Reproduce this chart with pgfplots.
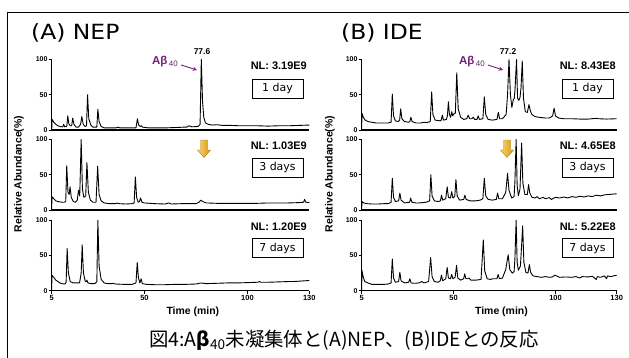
\documentclass[border=0pt]{standalone}
\usepackage{pgfplots}
\pgfplotsset{compat=1.18}
\usepackage{fontspec}
\setmainfont{Liberation Sans}
\newfontfamily\dejavu{DejaVu Sans}
\newfontfamily\jp{Noto Sans CJK JP}
\definecolor{abpurple}{RGB}{115,30,120}
\definecolor{goldA}{RGB}{250,215,110}
\definecolor{goldB}{RGB}{215,150,20}

\pgfplotsset{
 chrom/.style={
  scale only axis, width=#1, height=70.5bp,
  xmin=5,xmax=130,ymin=0,ymax=100,
  axis x line*=bottom, axis y line*=left,
  axis line style={-, line width=1.1bp},
  ytick={0,50,100}, yticklabels={0,50,100},
  yticklabel style={font=\bfseries\fontsize{7}{7}\selectfont, inner sep=1bp},
  xticklabel style={font=\bfseries\fontsize{7.5}{7.5}\selectfont, inner sep=1bp},
  tick align=outside, major tick length=3bp,
  tick style={line width=0.9bp, black},
  xtick=\empty,
  clip=false,
 },
 trace/.style={black, line width=0.9bp, line join=round, no marks},
}

\begin{document}
\begin{tikzpicture}
\path[use as bounding box] (0,0) rectangle (629bp,-358bp);
\draw[line width=1bp] (7.3bp,-358bp) -- (7.3bp,-12.3bp) -- (629bp,-12.3bp);

% ---------------- (A) NEP ----------------
\begin{axis}[chrom=257.6bp, at={(51.7bp,-130bp)}, anchor=south west]
\addplot[trace] coordinates {(5,0)(5.2,15)(6,11)(7,8)(8,6)(9,5)(10,4.5)(10.4,4.5)(10.8,8)(11.3,4.5)(12.3,5)(12.8,20)(13.3,9)(14,6)(14.7,6)(15.2,17)(15.8,8)(16.8,4)(18,4)(19,8)(19.6,19)(20.3,8)(21.2,5)(21.9,6)(22.4,50)(23,16)(24,7)(25,4)(26.9,4)(27.4,29.5)(28,12)(29,5)(30.5,3)(33,3)(36,3)(37.5,4)(38,3)(42,3)(45.9,3)(46.6,16)(47.2,7)(48,5)(48.5,6)(49.2,4)(52,3)(56,3)(60,3)(65,3.5)(69,4)(70.5,4)(71.6,6)(73,4.5)(76,5)(77,8)(77.6,100)(78.2,40)(78.8,18)(79.6,10)(81,8)(83,7)(85,7.5)(88,6.5)(92,6.5)(96,6)(100,6)(105,6)(110,5.5)(115,6)(120,6)(125,6.5)(130,7)};
\end{axis}
\begin{axis}[chrom=257.6bp, at={(51.7bp,-210bp)}, anchor=south west]
\addplot[trace] coordinates {(5,0)(5.1,19)(6,16)(7,13)(8,12)(9,11.5)(10,11)(11,11)(11.8,12)(12.3,63)(12.9,25)(13.5,22)(13.9,33)(14.5,18)(15.5,12)(16.5,11)(17.4,14)(18,28)(18.6,20)(19.3,100)(19.9,30)(20.6,18)(21.5,20)(22.1,67)(22.8,25)(23.8,14)(25,11)(26.5,11)(27.3,62)(28,22)(29,13)(30.5,10)(33,9)(36,9)(36.7,10)(37.5,9)(41,8.5)(44,9)(45,10)(45.6,47)(46.2,18)(47,11)(47.6,12)(48.1,17)(48.8,11)(50,10)(55,9)(60,8.5)(61.9,10)(63,8.5)(68,9)(72,9)(75,9)(76.5,11)(77.3,14)(78.3,12)(80,10)(85,9.5)(90,9.5)(95,9.5)(100,9.5)(105,9.5)(110,10)(115,10)(120,10)(125,10.5)(127.2,11)(127.7,15)(128.3,11)(130,10.5)};
\end{axis}
\begin{axis}[chrom=257.6bp, at={(51.7bp,-290.7bp)}, anchor=south west,
  xtick={5,50,100,130}, xticklabels={5,50,100,130}]
\addplot[trace] coordinates {(5,0)(5.1,22)(6,19)(7,15)(8,13)(9,11)(10,10)(11.5,9.5)(12,12)(12.5,60)(13.1,25)(14,13)(15.5,11)(17,11)(18.5,11)(19.3,25)(19.8,65)(20.4,25)(21.3,13)(21.8,13)(22.1,15)(22.6,11)(24,10)(26,10)(26.9,13)(27.4,100)(28,35)(29,16)(30.5,11)(32,10)(34,10)(34.5,10.5)(36,9.5)(40,9)(44,9)(45.9,11)(46.5,40)(47.1,18)(47.8,11)(48.4,17)(49,10)(51,9)(55,8.5)(60,8.5)(65,9)(70,9)(75,9.5)(77.5,11)(80,10)(85,10.5)(90,11)(95,11)(100,11.5)(105,12)(105.8,13)(106.5,12)(110,12)(115,12.5)(120,13)(122,13)(125,13.5)(130,14.5)};
\node[font=\bfseries\fontsize{10.5}{10.5}\selectfont] at (axis cs:73.5,0) [yshift=-21.5bp] {Time (min)};
\end{axis}

% ---------------- (B) IDE ----------------
\begin{axis}[chrom=255bp, at={(361.7bp,-130bp)}, anchor=south west]
\addplot[trace] coordinates {(5,0)(5.1,24)(5.8,18)(6.7,14)(8,12)(10,11)(12,10)(15,10)(18,10)(19.4,11)(20,51)(20.6,20)(21.5,13)(23,12)(23.6,14)(24.1,30)(24.7,16)(26,12)(28,11)(28.6,12)(29.1,18)(29.7,12)(31.5,10)(34,10)(35.5,11)(37,10.5)(38.6,12)(39.3,54)(39.9,22)(41,14)(43.5,13)(44,14)(44.5,21)(45.1,14)(46.5,15)(47,20)(47.5,40)(48,22)(48.6,18)(49.1,26)(49.6,20)(50.2,23)(50.9,24)(51.6,81)(52.3,30)(53.5,18)(55,15)(56.5,16)(57.2,21)(57.9,16)(59,16)(59.7,18)(60.4,15)(61.5,15)(62.1,20)(62.7,15)(64.4,16)(65.1,47)(65.8,22)(67,15)(69,14)(71.3,15)(72,25)(72.6,16)(74,16)(75.8,22)(76.5,50)(77.2,100)(77.9,50)(78.6,32)(79.3,43)(79.8,45)(80.2,60)(80.9,100)(81.4,45)(82,42)(82.6,46)(83.1,60)(83.7,98)(84.3,45)(85.2,26)(86.2,25)(87,36)(87.6,28)(88.4,22)(90,19)(92,18)(95,17)(97,17)(98.6,20)(99.3,31)(100,20)(101.5,17)(104,16)(108,16)(112,15.5)(116,15.5)(120,16.5)(121,16)(125,15.5)(130,16)};
\end{axis}
\begin{axis}[chrom=255bp, at={(361.7bp,-210bp)}, anchor=south west]
\addplot[trace] coordinates {(5,0)(5.1,12)(6,10)(7.5,9)(10,8.5)(13,8.5)(16,9)(18,9)(19.4,11)(20,45)(20.6,18)(21.5,12)(23.1,13)(23.7,24)(24.3,14)(26,10)(28.5,11)(29,17)(29.6,11)(31.5,10)(33,10)(35,10.5)(36.5,11)(38.3,13)(38.9,50)(39.5,20)(40.6,13)(42.5,12)(43.6,13)(44.1,21)(44.7,14)(46.2,16)(46.9,33)(47.5,18)(48.5,17)(49.1,26)(49.7,17)(50.6,19)(51.2,43)(51.8,20)(53,14)(55,15)(55.6,21)(56.2,15)(58,13)(61,13)(63,14)(64.4,16)(65.1,45)(65.8,20)(67,15)(69,14)(71,15)(71.6,24)(72.2,16)(74,16)(75.6,25)(76.5,52)(77.2,28)(78.5,17)(79.7,19)(80.1,40)(80.7,100)(81.2,35)(81.8,20)(82.6,30)(83.4,95)(84,38)(85,22)(86.2,22)(86.8,36)(87.4,24)(88.5,18)(90,17)(91,19)(92,16)(94,18)(95,16)(97,17.5)(98,15)(100,18)(102,17)(104,18.5)(106,17)(108,19)(110,18)(112,19.5)(114,18.5)(116,20)(118,19)(120,21)(122,20)(124,21.5)(126,22)(128,22.5)(130,23)};
\end{axis}
\begin{axis}[chrom=255bp, at={(361.7bp,-290.7bp)}, anchor=south west,
  xtick={5,50,100,130}, xticklabels={5,50,100,130}]
\addplot[trace] coordinates {(5,0)(5.1,29)(5.7,20)(6.5,13)(8,11)(10,9)(13,9)(16,9)(18,9.5)(19.4,11)(20,45)(20.6,18)(21.5,12)(23.1,13)(23.7,26)(24.3,14)(26,11)(28,12)(28.6,17)(29.2,11)(31,10.5)(33,11)(34.5,13)(35.5,11)(37.8,13)(38.8,47)(39.5,20)(40.6,13)(42.5,12)(43.5,14)(44.1,22)(44.7,14)(46.2,17)(46.9,33)(47.5,18)(48.5,17)(49.1,23)(49.7,17)(50.8,19)(51.5,36)(52.1,18)(53.5,15)(55,17)(55.5,24)(56.1,17)(57,17)(57.6,18)(58.5,15)(61,15)(63.5,16)(64.6,72)(65.3,28)(66.5,17)(68,16)(69.5,17)(71.3,17)(71.9,23)(72.5,17)(74,18)(75.6,30)(76.8,51)(77.6,30)(78.8,25)(79.7,27)(80.1,45)(80.7,100)(81.2,40)(81.8,29)(82.8,35)(83.3,60)(83.9,92)(84.5,40)(85.5,26)(86.5,25)(87.2,37)(87.8,26)(89,21)(91,20)(93,19)(95,20)(97,19)(98.5,19.5)(99.6,22)(100.5,21)(102,19)(105,19.5)(108,19)(110,20)(112,18)(113,20)(116,19.5)(118,20.5)(120,16)(120.5,20)(122,19)(124,21)(125,17)(125.5,21)(127,20)(130,22)};
\node[font=\bfseries\fontsize{10.5}{10.5}\selectfont] at (axis cs:73.5,0) [yshift=-21.5bp] {Time (min)};
\end{axis}

% ---------------- annotations ----------------
\node[anchor=west, font=\dejavu\fontsize{21}{21}\selectfont, inner sep=0] at (31bp,-33bp) {\scalebox{1.12}[1]{(A) NEP}};
\node[anchor=west, font=\dejavu\fontsize{21}{21}\selectfont, inner sep=0] at (341bp,-33bp) {\scalebox{1.12}[1]{(B) IDE}};

\node[rotate=90, font=\bfseries\fontsize{10.5}{10.5}\selectfont] at (19bp,-174bp) {Relative Abundance(\%)};
\node[rotate=90, font=\bfseries\fontsize{10.5}{10.5}\selectfont] at (330bp,-174bp) {Relative Abundance(\%)};

\foreach \xr/\xb/\nla/\nlb/\nlc in {307/277.5/3.19E9/1.03E9/1.20E9, 616/587.5/8.43E8/4.65E8/5.22E8}{
  \node[anchor=east, font=\bfseries\fontsize{11}{11}\selectfont, inner sep=0] at (\xr bp,-66bp) {NL: \nla};
  \node[anchor=east, font=\bfseries\fontsize{11}{11}\selectfont, inner sep=0] at (\xr bp,-146bp) {NL: \nlb};
  \node[anchor=east, font=\bfseries\fontsize{11}{11}\selectfont, inner sep=0] at (\xr bp,-226.7bp) {NL: \nlc};
  \node[draw, line width=0.8bp, minimum width=51bp, minimum height=19bp, inner sep=0, font=\dejavu\fontsize{11}{11}\selectfont] at (\xb bp,-88.5bp) {1 day};
  \node[draw, line width=0.8bp, minimum width=51bp, minimum height=19bp, inner sep=0, font=\dejavu\fontsize{11}{11}\selectfont] at (\xb bp,-167.5bp) {3 days};
  \node[draw, line width=0.8bp, minimum width=51bp, minimum height=19bp, inner sep=0, font=\dejavu\fontsize{11}{11}\selectfont] at (\xb bp,-248bp) {7 days};
}

% A-beta labels
\node[anchor=east, text=abpurple, inner sep=0] at (178bp,-62bp) {\bfseries\fontsize{11.5}{11.5}\selectfont Aβ\kern1.5bp\raisebox{-1.5bp}{\mdseries\fontsize{8}{8}\selectfont 40}};
\draw[abpurple, line width=0.9bp, -stealth] (181bp,-65bp) -- (197bp,-70bp);
\node[font=\bfseries\fontsize{8.5}{8.5}\selectfont] at (202bp,-52bp) {77.6};

\node[anchor=east, text=abpurple, inner sep=0] at (485bp,-62bp) {\bfseries\fontsize{11.5}{11.5}\selectfont Aβ\kern1.5bp\raisebox{-1.5bp}{\mdseries\fontsize{8}{8}\selectfont 40}};
\draw[abpurple, line width=0.9bp, -stealth] (488bp,-65bp) -- (503bp,-70bp);
\node[font=\bfseries\fontsize{8.5}{8.5}\selectfont] at (508bp,-52bp) {77.2};

% gold arrows
\foreach \cx in {204,507}{
  \path[left color=goldA, right color=goldB, draw=goldB!80!black, line width=0.4bp]
    (\cx bp-3.5bp,-140bp) -- (\cx bp+3.5bp,-140bp) -- (\cx bp+3.5bp,-150bp) -- (\cx bp+6.5bp,-150bp)
    -- (\cx bp,-157.5bp) -- (\cx bp-6.5bp,-150bp) -- (\cx bp-3.5bp,-150bp) -- cycle;
}

% caption
\node[font=\jp\fontsize{19.5}{19.5}\selectfont] at (344bp,-340bp) {図4:A{\bfseries β}\textsubscript{40}未凝集体と(A)NEP、(B)IDEとの反応};
\end{tikzpicture}
\end{document}
